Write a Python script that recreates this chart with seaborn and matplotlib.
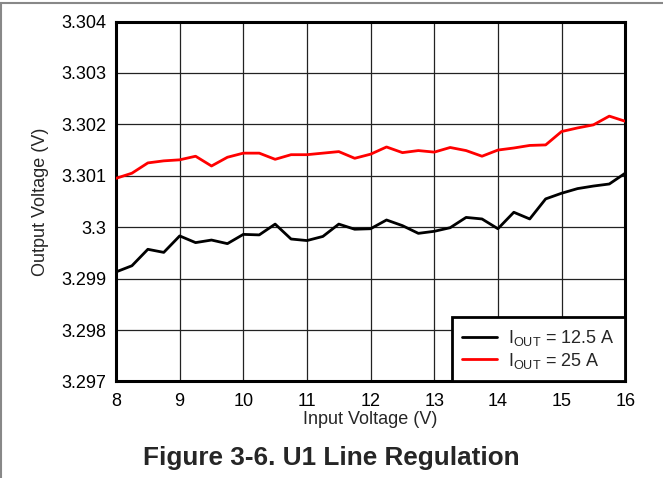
import numpy as np
import pandas as pd
import seaborn as sns
import matplotlib.pyplot as plt
from matplotlib.lines import Line2D

# input voltage sweep (V)
vin = [8, 8.25, 8.5, 8.75, 9, 9.25, 9.5, 9.75, 10, 10.25, 10.5, 10.75,
       11, 11.25, 11.5, 11.75, 12, 12.25, 12.5, 12.75, 13, 13.25, 13.5, 13.75,
       14, 14.25, 14.5, 14.75, 15, 15.25, 15.5, 15.75, 16]

# output voltage at 12.5 A
vout_12a5 = [3.29913, 3.29925, 3.29957, 3.29951, 3.29983, 3.29970, 3.29975, 3.29968,
             3.29986, 3.29985, 3.30006, 3.29977, 3.29974, 3.29982, 3.30006, 3.29996,
             3.29997, 3.30014, 3.30003, 3.29988, 3.29992, 3.29999, 3.30019, 3.30016,
             3.29997, 3.30029, 3.30016, 3.30055, 3.30066, 3.30075, 3.30080, 3.30084,
             3.30105]

# output voltage at 25 A
vout_25a = [3.30095, 3.30105, 3.30125, 3.30129, 3.30131, 3.30138, 3.30119, 3.30136,
            3.30144, 3.30144, 3.30132, 3.30141, 3.30141, 3.30144, 3.30147, 3.30134,
            3.30142, 3.30156, 3.30145, 3.30149, 3.30146, 3.30155, 3.30149, 3.30138,
            3.30150, 3.30154, 3.30159, 3.30160, 3.30186, 3.30193, 3.30199, 3.30216,
            3.30206]

series_names = [r'I$_{\mathrm{OUT}}$ = 12.5 A', r'I$_{\mathrm{OUT}}$ = 25 A']
y_ticks = [3.297, 3.298, 3.299, 3.300, 3.301, 3.302, 3.303, 3.304]
y_labels = ['3.297', '3.298', '3.299', '3.3', '3.301', '3.302', '3.303', '3.304']
x_ticks = [8, 9, 10, 11, 12, 13, 14, 15, 16]

df = pd.DataFrame({
    'Input Voltage (V)': vin * 2,
    'Output Voltage (V)': vout_12a5 + vout_25a,
    'Load': [series_names[0]] * len(vin) + [series_names[1]] * len(vin),
})

sns.set_style('white')
plt.rcParams['font.family'] = ['Liberation Sans', 'DejaVu Sans']
plt.rcParams['mathtext.fontset'] = 'custom'
plt.rcParams['mathtext.rm'] = 'Liberation Sans'

fig = plt.figure(figsize=(6.63, 4.78), dpi=100)
ax = fig.add_axes([0.175, 0.202, 0.768, 0.753])

sns.lineplot(data=df, x='Input Voltage (V)', y='Output Voltage (V)', hue='Load',
             palette=['black', '#ff0000'], linewidth=2.0, ax=ax, zorder=3)

ax.set_xlim(8, 16)
ax.set_ylim(3.297, 3.304)
ax.set_xticks(x_ticks)
ax.set_xticklabels([str(t) for t in x_ticks])
ax.set_yticks(y_ticks)
ax.set_yticklabels(y_labels)
ax.tick_params(axis='both', length=0, labelsize=13, colors='black')
ax.tick_params(axis='x', pad=8)
ax.tick_params(axis='y', pad=7)
ax.grid(True, color='#222222', linewidth=0.9)
for s in ax.spines.values():
    s.set_color('black')
    s.set_linewidth(2.2)

ax.set_xlabel('Input Voltage (V)', fontsize=13, labelpad=1)
ax.set_ylabel('Output Voltage (V)', fontsize=13, labelpad=9)

leg = ax.legend(loc='lower right', fontsize=13, frameon=True, fancybox=False,
                borderpad=0.6, handlelength=1.9, handletextpad=0.6,
                labelspacing=0.15, borderaxespad=0)
leg.get_frame().set_edgecolor('black')
leg.get_frame().set_linewidth(2.0)
leg.get_frame().set_alpha(1)
for line in leg.get_lines():
    line.set_linewidth(2.0)

fig.text(0.5, 0.041, 'Figure 3-6. U1 Line Regulation', ha='center', va='center',
         fontsize=18.8, fontweight='bold')

# page border (left and top)
fig.add_artist(Line2D([0.001, 0.001], [0, 0.994], color='#888888', linewidth=1.5))
fig.add_artist(Line2D([0, 1], [0.994, 0.994], color='#888888', linewidth=1.5))

plt.savefig('out.png', dpi=100)
